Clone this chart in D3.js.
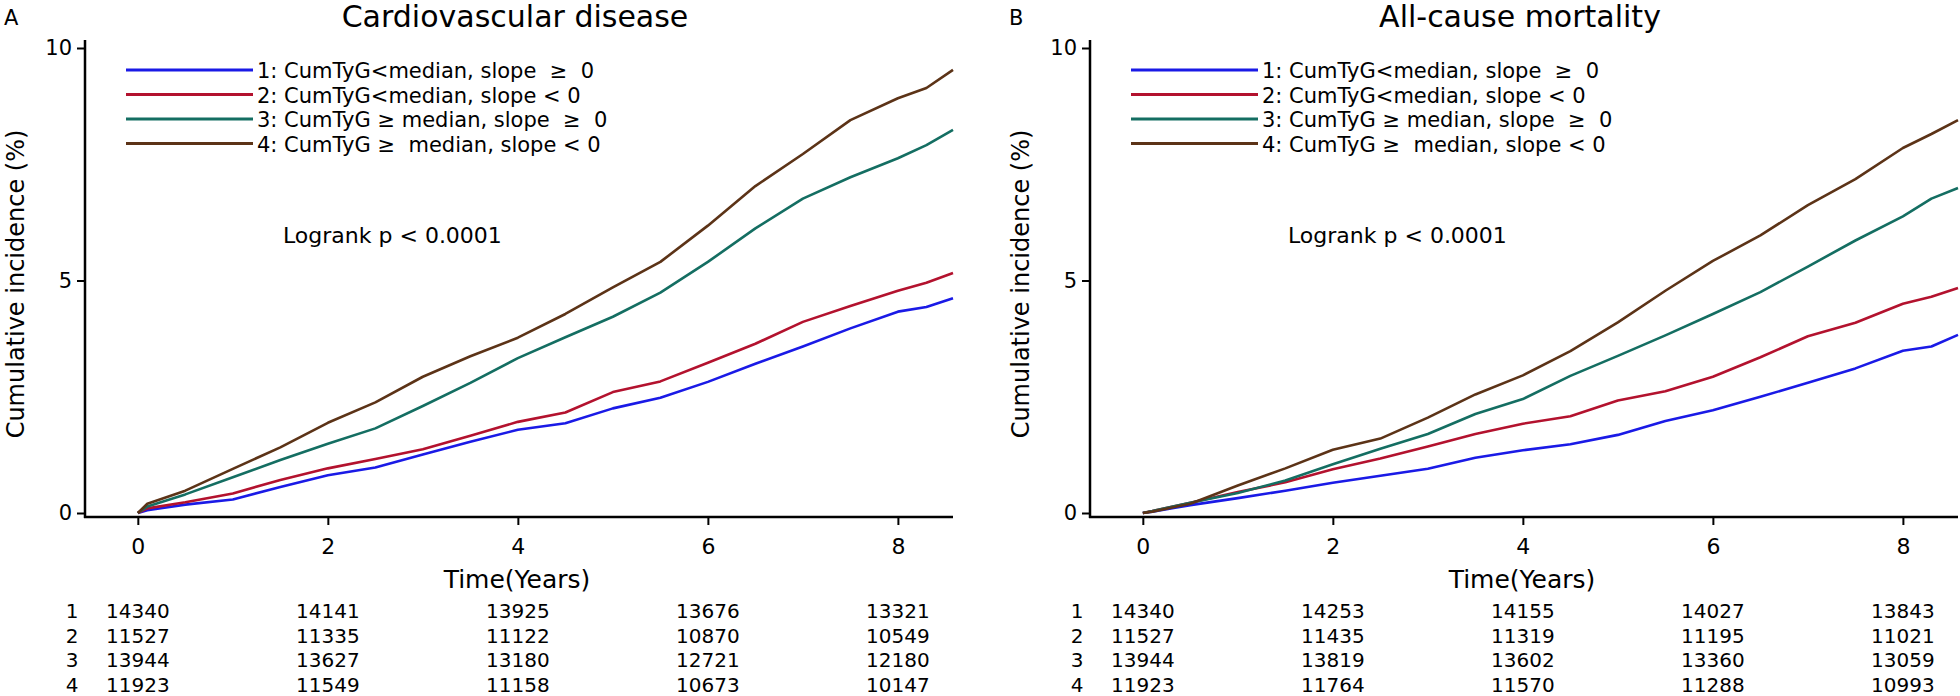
<!DOCTYPE html>
<html>
<head>
<meta charset="utf-8">
<script src="https://cdn.jsdelivr.net/npm/d3@7"></script>
<style>
  html, body { margin: 0; padding: 0; background: #fff; }
  svg { display: block; font-family: "DejaVu Sans", Verdana, sans-serif; }
  text { white-space: pre; }
</style>
</head>
<body>
<svg id="chart" width="1960" height="696"></svg>
<script>
// ---------- data ----------
const years = [0, 0.1, 0.5, 1.0, 1.5, 2.0, 2.5, 3.0, 3.5, 4.0, 4.5, 5.0, 5.5, 6.0, 6.5, 7.0, 7.5, 8.0, 8.3, 8.58];

const groupLabels = [
  "1: CumTyG<median, slope  \u2265  0",
  "2: CumTyG<median, slope < 0",
  "3: CumTyG \u2265 median, slope  \u2265  0",
  "4: CumTyG \u2265  median, slope < 0"
];
const groupColors = ["#1a1ae6", "#b3122e", "#146e62", "#5c3317"];

// Cardiovascular disease, cumulative incidence (%)
const cvdG1 = [0, 0.06, 0.18, 0.29, 0.56, 0.81, 0.98, 1.26, 1.53, 1.79, 1.93, 2.25, 2.48, 2.82, 3.21, 3.58, 3.97, 4.33, 4.43, 4.62];
const cvdG2 = [0, 0.10, 0.23, 0.42, 0.71, 0.96, 1.16, 1.37, 1.66, 1.96, 2.16, 2.60, 2.83, 3.23, 3.64, 4.11, 4.45, 4.78, 4.95, 5.16];
const cvdG3 = [0, 0.14, 0.40, 0.77, 1.14, 1.49, 1.82, 2.30, 2.80, 3.33, 3.78, 4.22, 4.74, 5.40, 6.12, 6.76, 7.22, 7.63, 7.91, 8.24];
const cvdG4 = [0, 0.20, 0.48, 0.95, 1.41, 1.94, 2.38, 2.93, 3.37, 3.77, 4.28, 4.85, 5.40, 6.18, 7.03, 7.72, 8.45, 8.92, 9.14, 9.53];

// All-cause mortality, cumulative incidence (%)
const mortG1 = [0, 0.03, 0.17, 0.32, 0.48, 0.65, 0.80, 0.95, 1.19, 1.35, 1.48, 1.68, 1.98, 2.21, 2.50, 2.80, 3.11, 3.49, 3.58, 3.83];
const mortG2 = [0, 0.04, 0.22, 0.45, 0.66, 0.94, 1.17, 1.43, 1.70, 1.92, 2.08, 2.42, 2.62, 2.93, 3.35, 3.80, 4.09, 4.50, 4.65, 4.84];
const mortG3 = [0, 0.04, 0.22, 0.43, 0.70, 1.05, 1.38, 1.70, 2.13, 2.45, 2.95, 3.38, 3.82, 4.28, 4.75, 5.30, 5.86, 6.38, 6.76, 6.99];
const mortG4 = [0, 0.03, 0.20, 0.59, 0.96, 1.36, 1.60, 2.05, 2.55, 2.96, 3.48, 4.10, 4.78, 5.42, 5.97, 6.62, 7.18, 7.85, 8.15, 8.45];

// numbers at risk
const riskTimes = [0, 2, 4, 6, 8];
const cvdRisk = [
  [14340, 14141, 13925, 13676, 13321],
  [11527, 11335, 11122, 10870, 10549],
  [13944, 13627, 13180, 12721, 12180],
  [11923, 11549, 11158, 10673, 10147]
];
const mortRisk = [
  [14340, 14253, 14155, 14027, 13843],
  [11527, 11435, 11319, 11195, 11021],
  [13944, 13819, 13602, 13360, 13059],
  [11923, 11764, 11570, 11288, 10993]
];

const xTicks = [0, 2, 4, 6, 8];
const yTicks = [0, 5, 10];

const panels = [
  { letter: "A", title: "Cardiovascular disease", series: [cvdG1, cvdG2, cvdG3, cvdG4], risk: cvdRisk, dx: 0 },
  { letter: "B", title: "All-cause mortality", series: [mortG1, mortG2, mortG3, mortG4], risk: mortRisk, dx: 1005 }
];

// ---------- drawing ----------
const svg = d3.select("#chart");

panels.forEach(p => {
  const g = svg.append("g").attr("transform", `translate(${p.dx},0)`);
  const x = d3.scaleLinear().domain([-0.556, 8.58]).range([85, 953]);
  const y = d3.scaleLinear().domain([0, 10]).range([513, 48]);
  const axisY = 517;

  // panel letter & title
  g.append("text").attr("x", 4).attr("y", 25).attr("font-size", 21).text(p.letter);
  g.append("text").attr("x", 515).attr("y", 27).attr("text-anchor", "middle")
    .attr("font-size", 30).text(p.title);

  // y axis
  const yAx = g.append("g").attr("transform", `translate(85,0)`)
    .call(d3.axisLeft(y).tickValues(yTicks).tickSize(8).tickSizeOuter(0).tickPadding(5));
  yAx.select(".domain").remove();
  yAx.selectAll(".tick line").attr("stroke", "#000").attr("stroke-width", 2);
  yAx.selectAll(".tick text").attr("font-size", 21).attr("font-family", "DejaVu Sans").attr("fill", "#000");

  // x axis
  const xAx = g.append("g").attr("transform", `translate(0,${axisY})`)
    .call(d3.axisBottom(x).tickValues(xTicks).tickSize(8).tickSizeOuter(0));
  xAx.select(".domain").remove();
  xAx.selectAll(".tick line").attr("stroke", "#000").attr("stroke-width", 2);
  xAx.selectAll(".tick text").attr("font-size", 22).attr("font-family", "DejaVu Sans")
    .attr("fill", "#000").attr("y", 37).attr("dy", 0);

  // axis lines
  g.append("line").attr("x1", 85).attr("x2", 85).attr("y1", 40).attr("y2", axisY + 1)
    .attr("stroke", "#000").attr("stroke-width", 2.5);
  g.append("line").attr("x1", 84).attr("x2", 953).attr("y1", axisY).attr("y2", axisY)
    .attr("stroke", "#000").attr("stroke-width", 2.5);

  // axis titles
  g.append("text").attr("x", 517).attr("y", 588).attr("text-anchor", "middle")
    .attr("font-size", 25).text("Time(Years)");
  g.append("text").attr("transform", "translate(24,284) rotate(-90)")
    .attr("text-anchor", "middle").attr("font-size", 24).text("Cumulative incidence (%)");

  // curves
  const line = d3.line().x((d, i) => x(years[i])).y(d => y(d));
  p.series.forEach((s, k) => {
    g.append("path").datum(s).attr("d", line).attr("fill", "none")
      .attr("stroke", groupColors[k]).attr("stroke-width", 2.6).attr("stroke-linejoin", "round");
  });

  // legend
  const legY = [70, 94.5, 119, 143.5];
  groupLabels.forEach((lab, k) => {
    g.append("line").attr("x1", 126).attr("x2", 253).attr("y1", legY[k]).attr("y2", legY[k])
      .attr("stroke", groupColors[k]).attr("stroke-width", 3);
    g.append("text").attr("x", 257).attr("y", legY[k] + 8).attr("font-size", 21).text(lab);
  });

  // logrank
  g.append("text").attr("x", 283).attr("y", 243).attr("font-size", 22).text("Logrank p < 0.0001");

  // risk table
  const rowY = [618, 643, 667, 692];
  p.risk.forEach((row, r) => {
    g.append("text").attr("x", 72).attr("y", rowY[r]).attr("text-anchor", "middle")
      .attr("font-size", 20).text(String(r + 1));
    row.forEach((v, c) => {
      g.append("text").attr("x", x(riskTimes[c])).attr("y", rowY[r]).attr("text-anchor", "middle")
        .attr("font-size", 20).text(v);
    });
  });
});
</script>
</body>
</html>
